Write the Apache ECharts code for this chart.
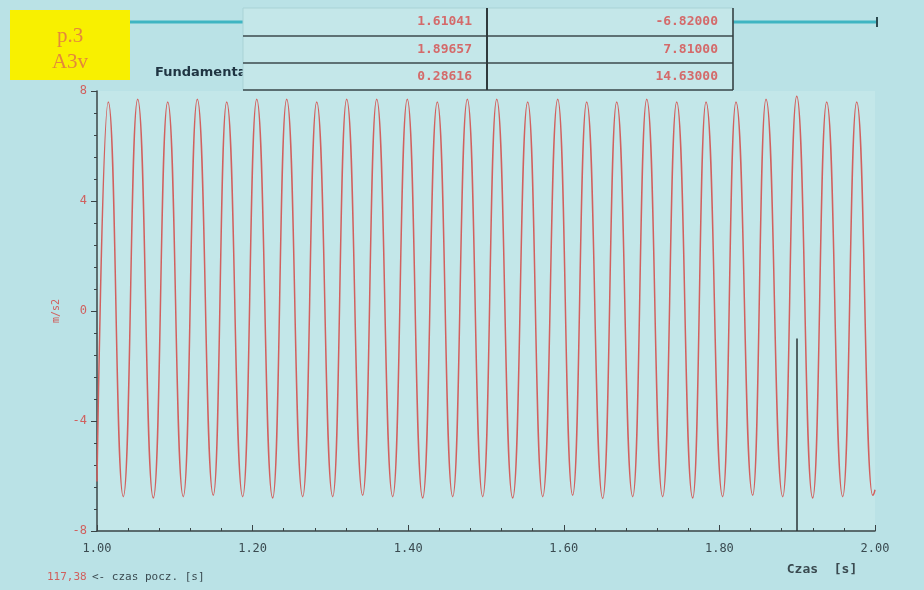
<!DOCTYPE html>
<html>
<head>
<meta charset="utf-8">
<script src="https://cdn.jsdelivr.net/npm/echarts@6/dist/echarts.min.js"></script>
<style>
html,body{margin:0;padding:0;background:#bae2e6;}
#chart{width:924px;height:590px;}
</style>
</head>
<body>
<div id="chart"></div>
<script>
// ---- data ----
var xTickLabels = ['1.00', '1.20', '1.40', '1.60', '1.80', '2.00'];
var yTickLabels = ['-8', '-4', '0', '4', '8'];
var startPoint = [1.000, -6.2];
var endPoint = [2.000, -6.5];
var peakT = [1.0145, 1.0523, 1.0909, 1.1289, 1.1667, 1.2053, 1.2438, 1.2824, 1.3209, 1.3595, 1.3988, 1.4374, 1.4760,
             1.5138, 1.5536, 1.5922, 1.6294, 1.6680, 1.7066, 1.7451, 1.7828, 1.8213, 1.8599, 1.8994, 1.9379, 1.9765];
var peakV = [7.6, 7.7, 7.6, 7.7, 7.6, 7.7, 7.7, 7.6, 7.7, 7.7, 7.7, 7.6, 7.7,
             7.7, 7.6, 7.7, 7.6, 7.6, 7.7, 7.6, 7.6, 7.6, 7.7, 7.81, 7.6, 7.6];
var troughT = [1.0338, 1.0724, 1.1109, 1.1495, 1.1873, 1.2258, 1.2644, 1.3030, 1.3415, 1.3801, 1.4186, 1.4572, 1.4958,
               1.5343, 1.5729, 1.6114, 1.6500, 1.6886, 1.7271, 1.7657, 1.8042, 1.8428, 1.8814, 1.9199, 1.9585, 1.9970];
var troughV = [-6.75, -6.8, -6.75, -6.7, -6.75, -6.8, -6.75, -6.75, -6.7, -6.75, -6.8, -6.75, -6.75,
               -6.8, -6.75, -6.7, -6.82, -6.75, -6.75, -6.8, -6.75, -6.7, -6.75, -6.8, -6.75, -6.7];
var statsLeft = ['1.61041', '1.89657', '0.28616'];
var statsRight = ['-6.82000', '7.81000', '14.63000'];
var cursorT = 1.90;
var cursorTop = -1.0;
var startTimeText = '117,38';

// build series from the arrays
var seriesData = [startPoint];
for (var i = 0; i < peakT.length; i++) {
  seriesData.push([peakT[i], peakV[i]]);
  seriesData.push([troughT[i], troughV[i]]);
}
seriesData.push(endPoint);

var chart = echarts.init(document.getElementById('chart'), null, {renderer: 'canvas'});
var mono = '"DejaVu Sans Mono", "Liberation Mono", monospace';
var red = '#d0605e';
var dark = '#3a4a50';

var tableX0 = 243, tableX1 = 487, tableX2 = 733;
var rowY = [8, 36, 63, 90];
var graphics = [
  // teal bars at top
  {type: 'line', shape: {x1: 130, y1: 22, x2: 243, y2: 22}, style: {stroke: '#3fb5c2', lineWidth: 3}},
  {type: 'line', shape: {x1: 733, y1: 22, x2: 877, y2: 22}, style: {stroke: '#3fb5c2', lineWidth: 3}},
  {type: 'line', shape: {x1: 877, y1: 17, x2: 877, y2: 27}, style: {stroke: '#2c4a50', lineWidth: 2}},
  // yellow label
  {type: 'rect', shape: {x: 10, y: 10, width: 120, height: 70}, style: {fill: '#f8f000'}},
  {type: 'text', x: 70, y: 36, style: {text: 'p.3', fill: '#e4883a', font: '21px "Liberation Serif", serif', textAlign: 'center', textVerticalAlign: 'middle'}},
  {type: 'text', x: 70, y: 62, style: {text: 'A3v', fill: '#e4883a', font: '21px "Liberation Serif", serif', textAlign: 'center', textVerticalAlign: 'middle'}},
  {type: 'text', x: 155, y: 73, z: 1, style: {text: 'Fundamental', fill: '#1f3442', font: 'bold 13px "DejaVu Sans", sans-serif', textVerticalAlign: 'middle'}},
  // table
  {type: 'rect', shape: {x: tableX0, y: rowY[0], width: tableX2 - tableX0, height: rowY[3] - rowY[0]}, style: {fill: '#c4e7e9', stroke: '#a9d3d6', lineWidth: 1}, z: 10},
  {type: 'line', shape: {x1: tableX0, y1: rowY[1], x2: tableX2, y2: rowY[1]}, style: {stroke: '#3d4a4c', lineWidth: 1.5}, z: 11},
  {type: 'line', shape: {x1: tableX0, y1: rowY[2], x2: tableX2, y2: rowY[2]}, style: {stroke: '#3d4a4c', lineWidth: 1.5}, z: 11},
  {type: 'line', shape: {x1: tableX0, y1: rowY[3], x2: tableX2, y2: rowY[3]}, style: {stroke: '#3d4a4c', lineWidth: 1.5}, z: 11},
  {type: 'line', shape: {x1: tableX1, y1: rowY[0], x2: tableX1, y2: rowY[3]}, style: {stroke: '#2f3a3c', lineWidth: 2}, z: 11},
  {type: 'line', shape: {x1: tableX2, y1: rowY[0], x2: tableX2, y2: rowY[3]}, style: {stroke: '#2f3a3c', lineWidth: 1.5}, z: 11},
  // bottom texts
  {type: 'text', x: 47, y: 577, style: {text: startTimeText, fill: red, font: '11px ' + mono, textVerticalAlign: 'middle'}},
  {type: 'text', x: 92, y: 577, style: {text: '<- czas pocz. [s]', fill: dark, font: '11px ' + mono, textVerticalAlign: 'middle'}},
  {type: 'text', x: 822, y: 570, style: {text: 'Czas  [s]', fill: dark, font: 'bold 13px ' + mono, textAlign: 'center', textVerticalAlign: 'middle'}}
];
for (var r = 0; r < 3; r++) {
  var cy = (rowY[r] + rowY[r + 1]) / 2;
  graphics.push({type: 'text', x: 472, y: cy, z: 12, style: {text: statsLeft[r], fill: '#d46a6a', font: 'bold 13px ' + mono, textAlign: 'right', textVerticalAlign: 'middle'}});
  graphics.push({type: 'text', x: 718, y: cy, z: 12, style: {text: statsRight[r], fill: '#d46a6a', font: 'bold 13px ' + mono, textAlign: 'right', textVerticalAlign: 'middle'}});
}

chart.setOption({
  animation: false,
  backgroundColor: '#bae2e6',
  grid: {left: 97, right: 49, top: 91, bottom: 59, show: true, backgroundColor: '#c3e7e9', borderWidth: 0},
  xAxis: {
    type: 'value', min: 1, max: 2, interval: 0.2,
    axisLine: {show: true, onZero: false, lineStyle: {color: '#3a4446', width: 1.5}},
    axisTick: {show: true, inside: true, length: 6, lineStyle: {color: '#3a4446'}},
    minorTick: {show: true, splitNumber: 5, length: 3, lineStyle: {color: '#3a4446'}},
    axisLabel: {color: dark, fontFamily: mono, fontSize: 12, margin: 12,
      formatter: function (v) { var k = Math.round((v - 1) / 0.2); return xTickLabels[k] || ''; }},
    splitLine: {show: false}
  },
  yAxis: {
    type: 'value', min: -8, max: 8, interval: 4,
    name: 'm/s2', nameLocation: 'middle', nameGap: 34, nameRotate: 90,
    nameTextStyle: {color: red, fontFamily: mono, fontSize: 10},
    axisLine: {show: true, onZero: false, lineStyle: {color: '#3a4446', width: 1.5}},
    axisTick: {show: true, length: 6, lineStyle: {color: '#3a4446'}},
    minorTick: {show: true, splitNumber: 5, length: 3, lineStyle: {color: '#3a4446'}},
    axisLabel: {color: red, fontFamily: mono, fontSize: 12, margin: 10,
      formatter: function (v) { var k = Math.round((v + 8) / 4); return yTickLabels[k] || ''; }},
    splitLine: {show: false}
  },
  series: [{
    type: 'line',
    data: seriesData,
    showSymbol: false,
    smooth: 0.5,
    smoothMonotone: 'x',
    lineStyle: {color: '#d2605e', width: 1.5},
    markLine: {
      silent: true, symbol: 'none', label: {show: false},
      lineStyle: {color: '#2a3436', width: 1.5, type: 'solid'},
      data: [[{coord: [cursorT, cursorTop]}, {coord: [cursorT, -8]}]]
    }
  }],
  graphic: graphics
});
</script>
</body>
</html>
